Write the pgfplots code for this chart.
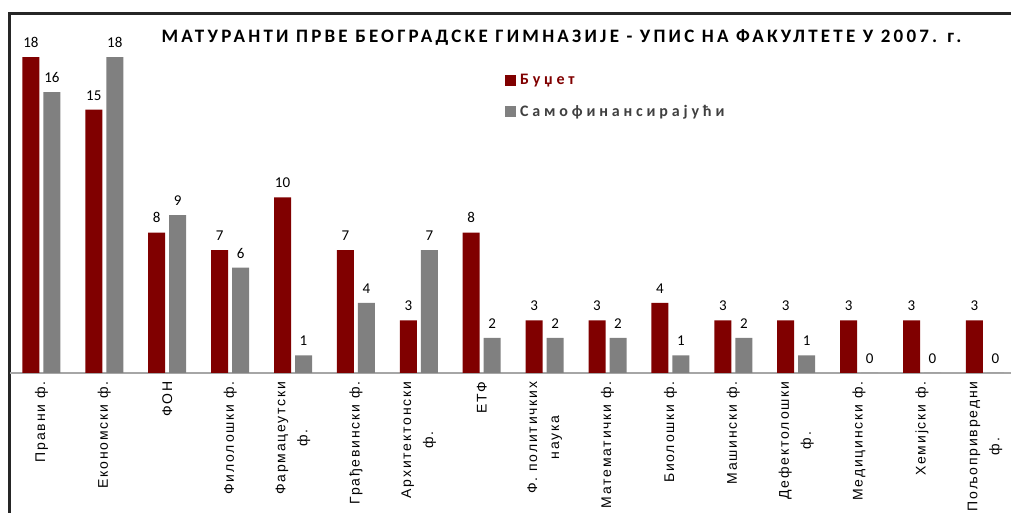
\documentclass[border=0pt]{standalone}
\usepackage{fontspec}
\usepackage{pgfplots}
\usepackage{pgfplotstable}
\pgfplotsset{compat=1.18}
\setmainfont{Carlito}
\newfontfamily\tickfont[LetterSpace=13]{Liberation Sans}
\newfontfamily\legfont[LetterSpace=24]{Carlito}
\newfontfamily\titlefont[LetterSpace=17]{Carlito}
\definecolor{dred}{RGB}{128,0,0}
\definecolor{mgray}{RGB}{128,128,128}
\definecolor{legtext}{RGB}{64,64,64}
\definecolor{framec}{RGB}{38,38,38}

\pgfplotstableread{
x bud sam
0 18 16
1 15 18
2 8 9
3 7 6
4 10 1
5 7 4
6 3 7
7 8 2
8 3 2
9 3 2
10 4 1
11 3 2
12 3 1
13 3 0
14 3 0
15 3 0
}\datatable

\begin{document}
\begin{tikzpicture}[x=1pt,y=1pt]
\useasboundingbox (0,0) rectangle (1011,513);
\draw[framec, line width=2.5pt] (9.5,-5) -- (9.5,499.5) -- (1020,499.5);
\begin{axis}[
  at={(10pt,140pt)}, anchor=south west,
  scale only axis, width=1001pt, height=351.1pt,
  xmin=-0.5, xmax=15.415, ymin=0, ymax=20,
  ybar=4pt, bar width=17pt,
  axis x line=bottom, axis y line=none,
  axis line style={draw=black!35, line width=1.2pt, -},
  xtick={0,...,15},
  xticklabels={Правни ф., Економски ф., ФОН, Филолошки ф., {Фармацеутски\\ф.}, Грађевински ф., {Архитектонски\\ф.}, ЕТФ, {Ф. политичких\\наука}, Математички ф., Биолошки ф., Машински ф., {Дефектолошки\\ф.}, Медицински ф., Хемијски ф., {Пољопривредни\\ф.}},
  major tick length=0pt,
  xticklabel shift=5pt,
  xticklabel style={rotate=90, anchor=east, align=center, font=\fontsize{14}{22}\tickfont},
  ytick=\empty,
  /pgf/number format/assume math mode=true,
  nodes near coords,
  every node near coord/.append style={font=\fontsize{15}{18}\selectfont, black, yshift=6pt},
  title={\titlefont\bfseries\fontsize{19}{23}\selectfont МАТУРАНТИ ПРВЕ БЕОГРАДСКЕ ГИМНАЗИЈЕ - УПИС НА ФАКУЛТЕТЕ У 2007. г.},
  title style={at={(0.551,0.923)}, anchor=base},
  legend image code/.code={\fill[#1] (0pt,-5.5pt) rectangle (11pt,5.5pt); \path (13pt,0pt);},
  legend style={at={(0.4915,0.862)}, anchor=north west, draw=none, fill=none,
    font=\legfont\bfseries\fontsize{16}{19}\selectfont, row sep=15pt},
  legend cell align=left,
]
\addplot[draw=none, fill=dred] table[x=x, y=bud] {\datatable};
\addlegendentry{\textcolor{dred}{Буџет}}
\addplot[draw=none, fill=mgray] table[x=x, y=sam] {\datatable};
\addlegendentry{\textcolor{legtext}{Самофинансирајући}}
\end{axis}
\end{tikzpicture}
\end{document}
